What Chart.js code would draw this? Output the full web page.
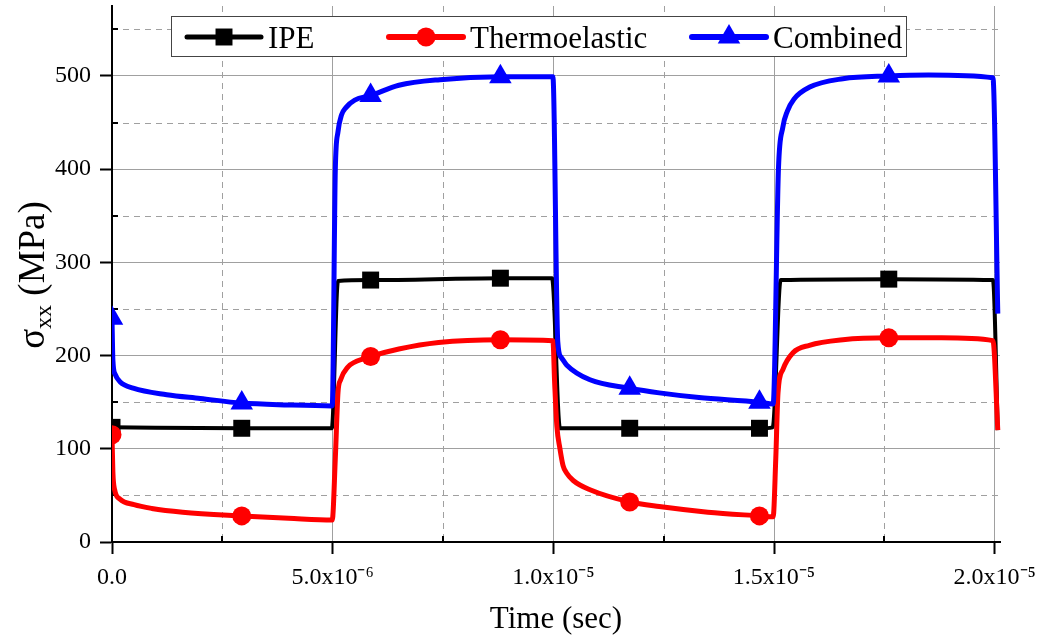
<!DOCTYPE html>
<html>
<head>
<meta charset="utf-8">
<script src="https://cdn.jsdelivr.net/npm/chart.js@4.4.1/dist/chart.umd.min.js"></script>
<style>
  html, body { margin: 0; padding: 0; background: #fff; }
  canvas { display: block; }
</style>
</head>
<body>
<canvas id="stress" width="1040" height="638"></canvas>
<script>
// times in microseconds, stress in MPa
const MARKER_T = [0, 2.94, 5.86, 8.8, 11.73, 14.67, 17.6];

const IPE_T = [0, 2.94, 4.98, 5.12, 5.86, 8.8, 9.97, 10.15, 11.73, 14.67, 14.97, 15.15, 17.6, 19.96, 20.07];
const IPE_Y = [123, 122, 122, 280, 281, 283, 283, 122, 122, 122, 123, 281, 282, 281, 120];

const THERMO_T = [0, 0.02, 0.06, 0.18, 0.5, 0.9, 1.6, 2.94, 4, 4.99,
  5.06, 5.12, 5.18, 5.35, 5.5, 5.86, 6.5, 7.4, 8.8, 9.99,
  10.03, 10.08, 10.15, 10.22, 10.3, 10.45, 10.83, 11.73, 12.4, 13.5,
  14.67, 14.98, 15.04, 15.09, 15.2, 15.43, 15.8, 16.56, 17.6, 18.8,
  19.96, 20.07];
const THERMO_Y = [115, 75, 56, 46, 40, 36, 32, 28, 25.5, 23.5,
  90, 160, 174, 188, 193, 199, 207, 214, 217, 216,
  170, 124, 100, 82, 74, 66, 56, 43, 38, 32,
  28, 27, 90, 160, 185, 203, 211, 217, 219, 219,
  216, 120];

const COMB_T = [0, 0.02, 0.07, 0.18, 0.48, 1.24, 2.0, 2.94, 4, 4.99,
  5.06, 5.12, 5.2, 5.3, 5.5, 5.86, 6.5, 7.43, 8.8, 9.99,
  10.1, 10.18, 10.3, 10.83, 11.73, 12.4, 13.3, 14.67, 14.98, 15.1,
  15.2, 15.3, 15.45, 15.81, 16.56, 17.6, 18.5, 19.96, 20.07];
const COMB_Y = [240, 195, 180, 172, 165, 158, 154, 149, 147, 146,
  400, 440, 458, 466, 474, 479, 490, 496, 499, 499,
  215, 198, 190, 174, 165, 160, 155, 150, 148, 400,
  445, 462, 475, 488, 497, 500, 501, 498, 245];

const X_TICKS = [0, 5e-6, 1e-5, 1.5e-5, 2e-5];
const X_TICK_LABELS = ['0.0', '5.0x10\u207B\u2076', '1.0x10\u207B\u2075', '1.5x10\u207B\u2075', '2.0x10\u207B\u2075'];
const X_MINOR = [2.5e-6, 7.5e-6, 1.25e-5, 1.75e-5];
const Y_TICKS = [0, 100, 200, 300, 400, 500];
const Y_TICK_LABELS = ['0', '100', '200', '300', '400', '500'];
const Y_MINOR = [50, 150, 250, 350, 450, 550];

const FONT = "'Liberation Serif', 'Times New Roman', serif";
Chart.defaults.font.family = FONT;
Chart.defaults.color = '#000';

const toPoints = (ts, ys) => ts.map((t, i) => ({ x: t * 1e-6, y: ys[i] }));
const markerRadii = (ts, r) => ts.map(t => MARKER_T.includes(t) ? r : 0);

function series(label, ts, ys, color, width, style, r, order) {
  return {
    label: label,
    data: toPoints(ts, ys),
    borderColor: color,
    backgroundColor: color,
    borderWidth: width,
    borderJoinStyle: 'round',
    pointStyle: style,
    pointRadius: markerRadii(ts, r),
    pointHoverRadius: 0,
    pointBorderWidth: 0,
    markerSize: r,
    cubicInterpolationMode: 'monotone',
    clip: { left: 0, top: 10, right: 10, bottom: 10 },
    order: order
  };
}

const extras = {
  id: 'extras',
  beforeDatasetsDraw(chart) {
    const { ctx, chartArea: a, scales: { x, y } } = chart;
    ctx.save();
    ctx.strokeStyle = '#a0a0a0';
    ctx.lineWidth = 1;
    ctx.setLineDash([6, 5]);
    ctx.beginPath();
    Y_MINOR.forEach(v => {
      const py = Math.round(y.getPixelForValue(v)) + 0.5;
      ctx.moveTo(a.left, py); ctx.lineTo(a.right, py);
    });
    X_MINOR.forEach(v => {
      const px = Math.round(x.getPixelForValue(v)) + 0.5;
      ctx.moveTo(px, a.top); ctx.lineTo(px, a.bottom);
    });
    ctx.stroke();
    // small inward minor ticks
    ctx.setLineDash([]);
    ctx.strokeStyle = '#000';
    ctx.lineWidth = 2;
    ctx.beginPath();
    Y_MINOR.forEach(v => {
      const py = Math.round(y.getPixelForValue(v));
      ctx.moveTo(a.left, py); ctx.lineTo(a.left + 6, py);
    });
    X_MINOR.forEach(v => {
      const px = Math.round(x.getPixelForValue(v));
      ctx.moveTo(px, a.bottom); ctx.lineTo(px, a.bottom - 6);
    });
    ctx.stroke();
    ctx.restore();
  },
  afterDraw(chart) {
    const ctx = chart.ctx;
    ctx.save();

    // y axis title with subscript
    ctx.translate(44, 275);
    ctx.rotate(-Math.PI / 2);
    ctx.fillStyle = '#000';
    ctx.textBaseline = 'alphabetic';
    const parts = [['\u03C3', '37px ' + FONT, 0], ['xx', '24px ' + FONT, 7], [' (MPa)', '37px ' + FONT, 0]];
    let w = 0;
    parts.forEach(p => { ctx.font = p[1]; w += ctx.measureText(p[0]).width; });
    let cx = -w / 2;
    parts.forEach(p => { ctx.font = p[1]; ctx.fillText(p[0], cx, p[2]); cx += ctx.measureText(p[0]).width; });
    ctx.restore();

    // legend box
    ctx.save();
    ctx.fillStyle = '#fff';
    ctx.fillRect(171, 16, 735, 40);
    ctx.strokeStyle = '#444';
    ctx.lineWidth = 1;
    ctx.strokeRect(171.5, 16.5, 735, 40);
    const starts = [187, 389, 692];
    const ly = 37;
    chart.data.datasets.forEach((ds, i) => {
      const x0 = starts[i];
      ctx.strokeStyle = ds.borderColor;
      ctx.lineWidth = ds.borderWidth + 1;
      ctx.lineCap = 'round';
      ctx.beginPath();
      ctx.moveTo(x0, ly); ctx.lineTo(x0 + 74, ly);
      ctx.stroke();
      ctx.fillStyle = ds.backgroundColor;
      Chart.helpers.drawPoint(ctx, { pointStyle: ds.pointStyle, radius: ds.markerSize, rotation: 0, borderWidth: 0 }, x0 + 37, ly);
      ctx.fillStyle = '#000';
      ctx.font = '31px ' + FONT;
      ctx.textBaseline = 'alphabetic';
      ctx.fillText(ds.label, x0 + 81, 48);
    });
    ctx.restore();
  }
};

new Chart(document.getElementById('stress').getContext('2d'), {
  type: 'line',
  data: {
    datasets: [
      series('IPE', IPE_T, IPE_Y, '#000000', 4, 'rect', 12, 3),
      series('Thermoelastic', THERMO_T, THERMO_Y, '#ff0000', 5, 'circle', 9.5, 2),
      series('Combined', COMB_T, COMB_Y, '#0000ff', 5, 'triangle', 13, 1)
    ]
  },
  options: {
    responsive: false,
    animation: false,
    devicePixelRatio: 1,
    layout: { autoPadding: false, padding: { left: 0, top: 6, right: 40, bottom: 0 } },
    plugins: { legend: { display: false }, tooltip: { enabled: false } },
    scales: {
      x: {
        type: 'linear',
        min: 0,
        max: 2.012e-5,
        afterBuildTicks: s => { s.ticks = X_TICKS.map(v => ({ value: v })); },
        afterFit: s => { s.height = 96; s.paddingLeft = 0; s.paddingRight = 0; },
        ticks: {
          autoSkip: false,
          maxRotation: 0,
          padding: 9,
          font: { size: 24 },
          callback: (v, i) => X_TICK_LABELS[i]
        },
        grid: { color: '#a0a0a0', lineWidth: 1, tickColor: '#000', tickWidth: 2, tickLength: 12 },
        border: { color: '#000', width: 2 },
        title: { display: true, text: 'Time (sec)', font: { size: 31 }, padding: { top: 0, bottom: 0 } }
      },
      y: {
        min: 0,
        max: 575,
        afterBuildTicks: s => { s.ticks = Y_TICKS.map(v => ({ value: v })); },
        afterFit: s => { s.width = 112; s.paddingTop = 0; s.paddingBottom = 0; },
        ticks: {
          padding: 9,
          font: { size: 24 },
          callback: (v, i) => Y_TICK_LABELS[i]
        },
        grid: { color: '#a0a0a0', lineWidth: 1, tickColor: '#000', tickWidth: 2, tickLength: 12 },
        border: { color: '#000', width: 2 }
      }
    }
  },
  plugins: [extras]
});
</script>
</body>
</html>
